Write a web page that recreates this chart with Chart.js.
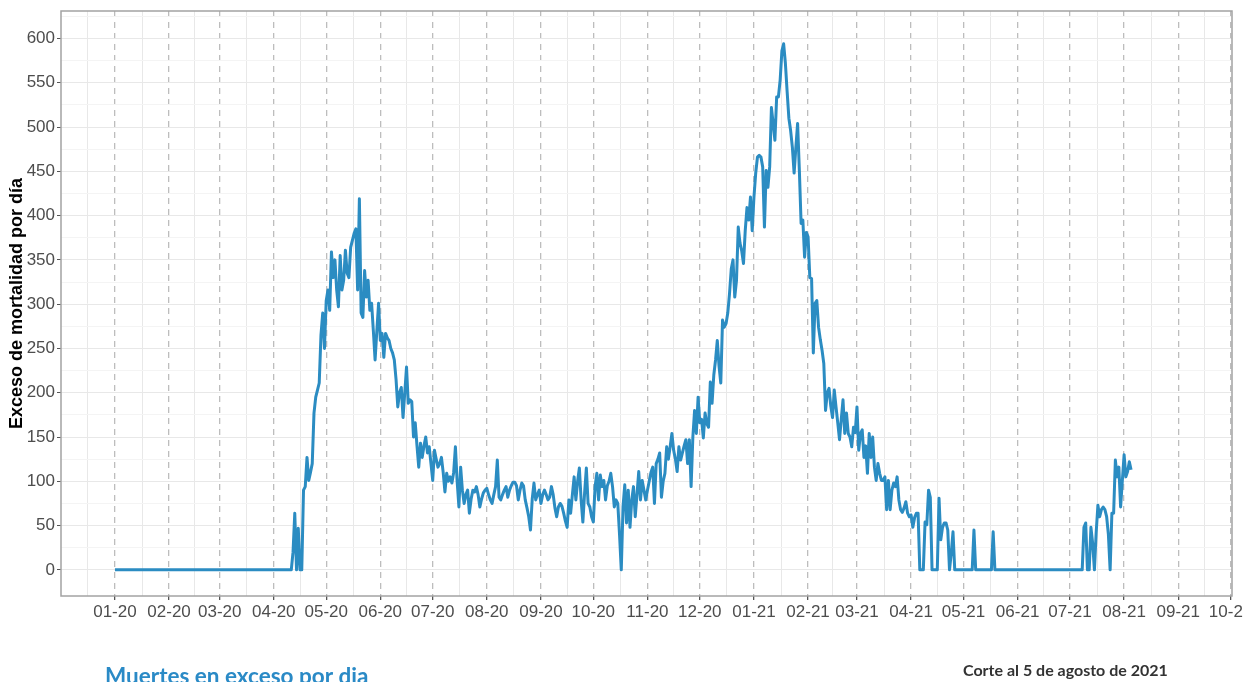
<!DOCTYPE html>
<html>
<head>
<meta charset="utf-8">
<script src="https://cdn.jsdelivr.net/npm/chart.js@4.4.1/dist/chart.umd.min.js"></script>
<style>
  html, body { margin: 0; padding: 0; background: #fff; }
</style>
</head>
<body>
<canvas id="chart" width="1243" height="682"></canvas>
<script>
// daily excess deaths, day 0 = 2020-01-01
const excessDaily = [
  0, 0, 0, 0, 0, 0, 0, 0, 0, 0, 0, 0, 0, 0, 0, 0, 0,
  0, 0, 0, 0, 0, 0, 0, 0, 0, 0, 0, 0, 0, 0, 0, 0, 0,
  0, 0, 0, 0, 0, 0, 0, 0, 0, 0, 0, 0, 0, 0, 0, 0, 0,
  0, 0, 0, 0, 0, 0, 0, 0, 0, 0, 0, 0, 0, 0, 0, 0, 0,
  0, 0, 0, 0, 0, 0, 0, 0, 0, 0, 0, 0, 0, 0, 0, 0, 0,
  0, 0, 0, 0, 0, 0, 0, 0, 0, 0, 0, 0, 0, 0, 0, 0, 0,
  20, 64, 0, 47, 0, 0, 90, 94, 127, 101,
  110, 120, 177, 195, 203, 211, 265, 290, 250, 304,
  316, 293, 359, 330, 350, 316, 297, 355, 316, 327,
  361, 335, 330, 364, 372, 380, 385, 316, 419, 290,
  285, 338, 308, 327, 293, 301, 270, 237, 270, 301,
  259, 267, 240, 267, 262, 259, 250, 245, 237, 215,
  184, 200, 206, 172, 200, 229, 188, 192, 190, 150,
  166, 140, 116, 143, 127, 140, 150, 132, 139, 120,
  101, 135, 125, 116, 120, 127, 110, 88, 109, 100,
  105, 98, 110, 139, 100, 71, 116, 90, 75, 85,
  90, 64, 80, 90, 88, 94, 85, 71, 80, 87,
  90, 92, 85, 79, 75, 85, 94, 124, 82, 79,
  85, 90, 94, 82, 90, 95, 99, 99, 95, 79,
  90, 98, 95, 79, 70, 60, 45, 80, 98, 79,
  85, 90, 75, 85, 90, 85, 79, 82, 94, 85,
  70, 60, 71, 75, 72, 64, 55, 48, 79, 64,
  85, 105, 79, 100, 115, 79, 54, 87, 115, 75,
  71, 60, 54, 94, 109, 79, 107, 94, 101, 79,
  95, 100, 109, 94, 71, 79, 75, 40, 0, 71,
  96, 53, 90, 48, 79, 94, 60, 85, 111, 79,
  101, 90, 79, 90, 100, 110, 116, 75, 120, 125,
  132, 82, 100, 109, 139, 125, 139, 154, 135, 125,
  111, 139, 124, 132, 140, 147, 120, 147, 94, 150,
  180, 154, 195, 166, 170, 149, 177, 165, 161, 212,
  188, 220, 237, 259, 230, 211, 282, 274, 278, 290,
  312, 340, 350, 308, 327, 387, 369, 360, 346, 383,
  409, 395, 421, 383, 421, 448, 466, 468, 466, 455,
  387, 451, 432, 455, 522, 504, 485, 534, 534, 553,
  586, 594, 572, 540, 510, 496, 477, 448, 477, 504,
  451, 391, 395, 353, 381, 376, 330, 329, 245, 301,
  304, 274, 260, 248, 233, 180, 200, 205, 185, 172,
  203, 184, 166, 147, 170, 192, 154, 177, 154, 150,
  139, 161, 155, 184, 135, 154, 158, 127, 140, 109,
  154, 127, 150, 116, 101, 120, 109, 101, 101, 105,
  68, 101, 68, 90, 98, 94, 105, 79, 68, 65,
  70, 77, 64, 60, 62, 48, 59, 64, 64, 0,
  0, 0, 54, 51, 90, 82, 0, 0, 0, 0,
  81, 34, 48, 53, 53, 45, 0, 19, 43, 0,
  0, 0, 0, 0, 0, 0, 0, 0, 0, 0,
  45,
  0, 0, 0, 0, 0, 0, 0, 0, 0, 0,
  43,
  0, 0, 0, 0, 0, 0, 0, 0, 0, 0, 0, 0, 0, 0, 0, 0, 0,
  0, 0, 0, 0, 0, 0, 0, 0, 0, 0, 0, 0, 0, 0, 0, 0, 0,
  0, 0, 0, 0, 0, 0, 0, 0, 0, 0, 0, 0, 0, 0, 0, 0, 0,
  48, 53, 0, 0, 48, 30, 0, 42, 73, 60,
  68, 71, 68, 60, 40, 0, 64, 64, 124, 105,
  116, 71, 101, 130, 105, 111, 122, 113
];

// month starts (days since 2020-01-01) and their labels
const monthStarts = [0, 31, 60, 91, 121, 152, 182, 213, 244, 274, 305, 335,
  366, 397, 425, 456, 486, 517, 547, 578, 609, 639];
const monthLabels = ['01-20', '02-20', '03-20', '04-20', '05-20', '06-20', '07-20',
  '08-20', '09-20', '10-20', '11-20', '12-20', '01-21', '02-21', '03-21', '04-21',
  '05-21', '06-21', '07-21', '08-21', '09-21', '10-21'];
const yLabels = [0, 50, 100, 150, 200, 250, 300, 350, 400, 450, 500, 550, 600];

const titleY = 'Exceso de mortalidad por día';
const captionLeft = 'Muertes en exceso por dia';
const captionRight = 'Corte al 5 de agosto de 2021';

const lineBlue = '#2b8cc2';

// minor gridlines half way between months
const midMonths = [-15.5];
for (let i = 0; i < monthStarts.length - 1; i++) {
  midMonths.push((monthStarts[i] + monthStarts[i + 1]) / 2);
}
const isMonth = v => monthStarts.includes(v);

const panelBorder = {
  id: 'panelBorder',
  afterDraw(chart) {
    const { ctx, chartArea: a } = chart;
    ctx.save();
    ctx.strokeStyle = '#a3a3a3';
    ctx.lineWidth = 1.5;
    ctx.strokeRect(a.left, a.top, a.right - a.left, a.bottom - a.top);

    ctx.textBaseline = 'alphabetic';
    ctx.fillStyle = '#2a8ac6';
    ctx.font = 'bold 22.5px Lato';
    ctx.fillText(captionLeft, 105, 684);
    ctx.fillStyle = '#333333';
    ctx.font = 'bold 16px Lato';
    ctx.fillText(captionRight, 963, 676);
    ctx.restore();
  }
};

new Chart(document.getElementById('chart'), {
  type: 'line',
  data: {
    datasets: [{
      data: excessDaily.map((v, i) => ({ x: i, y: v })),
      borderColor: lineBlue,
      borderWidth: 3,
      pointRadius: 0,
      tension: 0,
      borderJoinStyle: 'round',
      fill: false
    }]
  },
  options: {
    responsive: false,
    animation: false,
    layout: { padding: { left: 0, right: 11, top: 11, bottom: 56 } },
    plugins: { legend: { display: false }, tooltip: { enabled: false } },
    scales: {
      x: {
        type: 'linear',
        min: -30.9,
        max: 639.8,
        afterBuildTicks: scale => {
          scale.ticks = midMonths.concat(monthStarts)
            .sort((a, b) => a - b)
            .map(v => ({ value: v }));
        },
        afterFit: scale => {
          scale.height = 30;
          scale.paddingLeft = 0;
          scale.paddingRight = 0;
        },
        ticks: {
          autoSkip: false,
          maxRotation: 0,
          padding: 2,
          color: '#4d4d4d',
          font: { family: 'Liberation Sans', size: 17 },
          callback: v => isMonth(v) ? monthLabels[monthStarts.indexOf(v)] : ''
        },
        grid: {
          color: c => isMonth(c.tick.value) ? '#bdbdbd' : '#e8e8e8',
          lineWidth: c => isMonth(c.tick.value) ? 1.3 : 1,
          tickColor: c => isMonth(c.tick.value) ? '#555555' : 'rgba(0,0,0,0)',
          tickLength: 4
        },
        border: {
          display: false,
          dash: c => isMonth(c.tick.value) ? [6, 5] : []
        }
      },
      y: {
        min: -29.5,
        max: 631,
        afterBuildTicks: scale => {
          const t = [];
          for (let v = 0; v <= 625; v += 25) t.push({ value: v });
          scale.ticks = t;
        },
        afterFit: scale => {
          scale.width = 61;
          scale.paddingTop = 0;
          scale.paddingBottom = 0;
        },
        ticks: {
          padding: 2,
          color: '#4d4d4d',
          font: { family: 'Liberation Sans', size: 17 },
          callback: v => yLabels.includes(v) ? String(v) : ''
        },
        grid: {
          color: c => c.tick.value % 50 === 0 ? '#e8e8e8' : '#f4f4f4',
          tickColor: c => c.tick.value % 50 === 0 ? '#555555' : 'rgba(0,0,0,0)',
          tickLength: 4
        },
        border: { display: false },
        title: {
          display: true,
          text: titleY,
          color: '#000000',
          padding: { top: 6, bottom: 0 },
          font: { family: 'Liberation Sans', size: 18, weight: 'bold' }
        }
      }
    }
  },
  plugins: [panelBorder]
});
</script>
</body>
</html>
